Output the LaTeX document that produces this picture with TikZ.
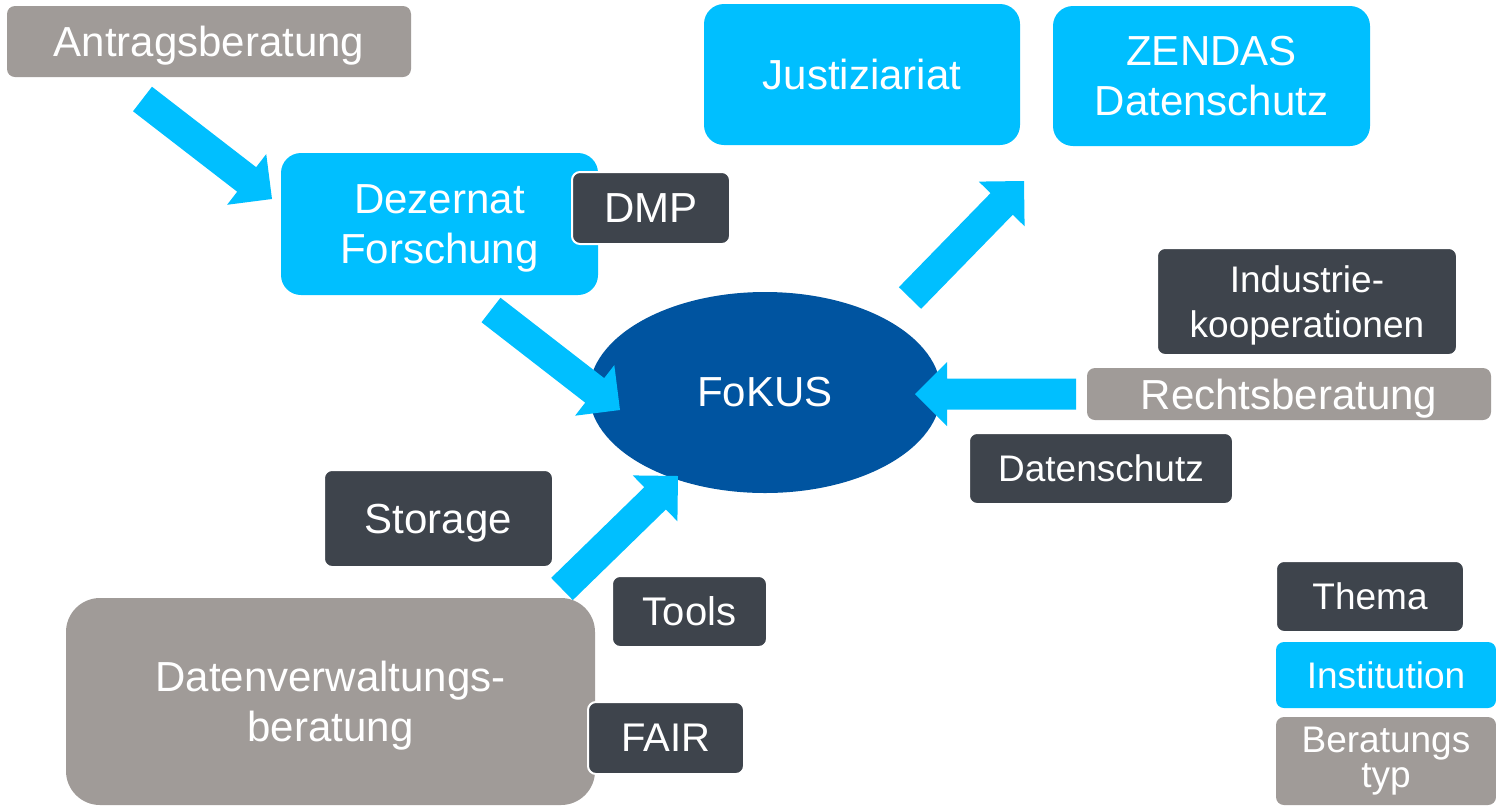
\documentclass[tikz,border=0pt]{standalone}
\usepackage{fontspec}
\setmainfont{Liberation Sans}
\usetikzlibrary{calc,shapes.geometric}
\definecolor{cyanbox}{RGB}{0,191,255}
\definecolor{graybox}{RGB}{160,155,152}
\definecolor{darkbox}{RGB}{62,68,76}
\definecolor{fokusblue}{RGB}{0,84,160}
\newcommand\nodepthtext[1]{\raisebox{0pt}[\height][0pt]{#1}}
\newcommand\blockarrow[2]{%
  \path ($(#2)!16pt!(#1)$) coordinate (#1-b);
  \fill[cyanbox] ($(#1)!7.75pt!90:(#2)$) -- ($(#1-b)!7.75pt!90:(#2)$) -- ($(#1-b)!16pt!90:(#2)$) -- (#2)
    -- ($(#1-b)!16pt!-90:(#2)$) -- ($(#1-b)!7.75pt!-90:(#2)$) -- ($(#1)!7.75pt!-90:(#2)$) -- cycle;}
\tikzset{
  box/.style={rectangle, inner sep=0pt, text=white, align=center, font=\fontsize{21}{25}\selectfont},
  small/.style={font=\fontsize{18.5}{22.5}\selectfont},
  mid/.style={font=\fontsize{20}{24}\selectfont},
  cbox/.style={box, fill=cyanbox, rounded corners=10pt},
  gbox/.style={box, fill=graybox, rounded corners=4pt},
  dbox/.style={box, fill=darkbox, rounded corners=4pt, draw=white, line width=1pt},
}
\begin{document}
\begin{tikzpicture}[x=0.5pt,y=-0.5pt]
\useasboundingbox (0,0) rectangle (1496,805);
% central ellipse
\node[ellipse, fill=fokusblue, minimum width=176pt, minimum height=100.5pt, inner sep=0pt, text=white, font=\fontsize{21}{25}\selectfont] (fokus) at (765,392.5) {FoKUS};
% arrow end points
\coordinate (a1s) at (142.5,99);  \coordinate (a1e) at (272,199);
\coordinate (a2s) at (491,310);   \coordinate (a2e) at (620,410);
\coordinate (a3s) at (910,298);   \coordinate (a3e) at (1024,181);
\coordinate (a4s) at (1076,394);  \coordinate (a4e) at (915,394);
\coordinate (a5s) at (562,589);   \coordinate (a5e) at (678,476);
\blockarrow{a1s}{a1e}
\blockarrow{a2s}{a2e}
\blockarrow{a3s}{a3e}
\blockarrow{a4s}{a4e}
\blockarrow{a5s}{a5e}
% boxes
\node[gbox, minimum width=202pt, minimum height=35.5pt] (antrag) at (209,41.5) {\nodepthtext{Antragsberatung}};
\node[cbox, minimum width=158.5pt, minimum height=71pt] (dez) at (439.5,224) {Dezernat\\\nodepthtext{Forschung}};
\node[dbox, minimum width=79pt, minimum height=36pt] (dmp) at (651,208) {DMP};
\node[cbox, minimum width=158pt, minimum height=70.5pt] (just) at (862,74.5) {Justiziariat};
\node[cbox, minimum width=158.5pt, minimum height=70pt] (zendas) at (1211.5,76) {ZENDAS\\Datenschutz};
\node[dbox, small, minimum width=150pt, minimum height=53.5pt] (indus) at (1307,301.5) {Industrie-\\\nodepthtext{kooperationen}};
\node[gbox, minimum width=202pt, minimum height=26pt] (recht) at (1289,394) {\nodepthtext{Rechtsberatung}};
\node[dbox, small, minimum width=132pt, minimum height=35.5pt] (dsch) at (1101,468.5) {Datenschutz};
\node[dbox, minimum width=114.5pt, minimum height=48.5pt] (storage) at (438.5,518.5) {\nodepthtext{Storage}};
\node[dbox, mid, minimum width=77.5pt, minimum height=35.5pt] (tools) at (689.5,611.5) {Tools};
\node[gbox, rounded corners=17pt, minimum width=264.5pt, minimum height=103.5pt] (dvb) at (330.5,701.5) {Datenverwaltungs-\\\nodepthtext{beratung}};
\node[dbox, mid, minimum width=78pt, minimum height=36pt] (fair) at (666,738) {FAIR};
% legend
\node[dbox, small, minimum width=94pt, minimum height=35.5pt] (thema) at (1370,596.5) {Thema};
\node[cbox, small, rounded corners=4pt, minimum width=110pt, minimum height=33pt] (inst) at (1386,675) {Institution};
\node[gbox, minimum width=110pt, minimum height=44pt, font=\fontsize{18.5}{17.5}\selectfont] (btyp) at (1386,761) {Beratungs\\typ};
\end{tikzpicture}
\end{document}
